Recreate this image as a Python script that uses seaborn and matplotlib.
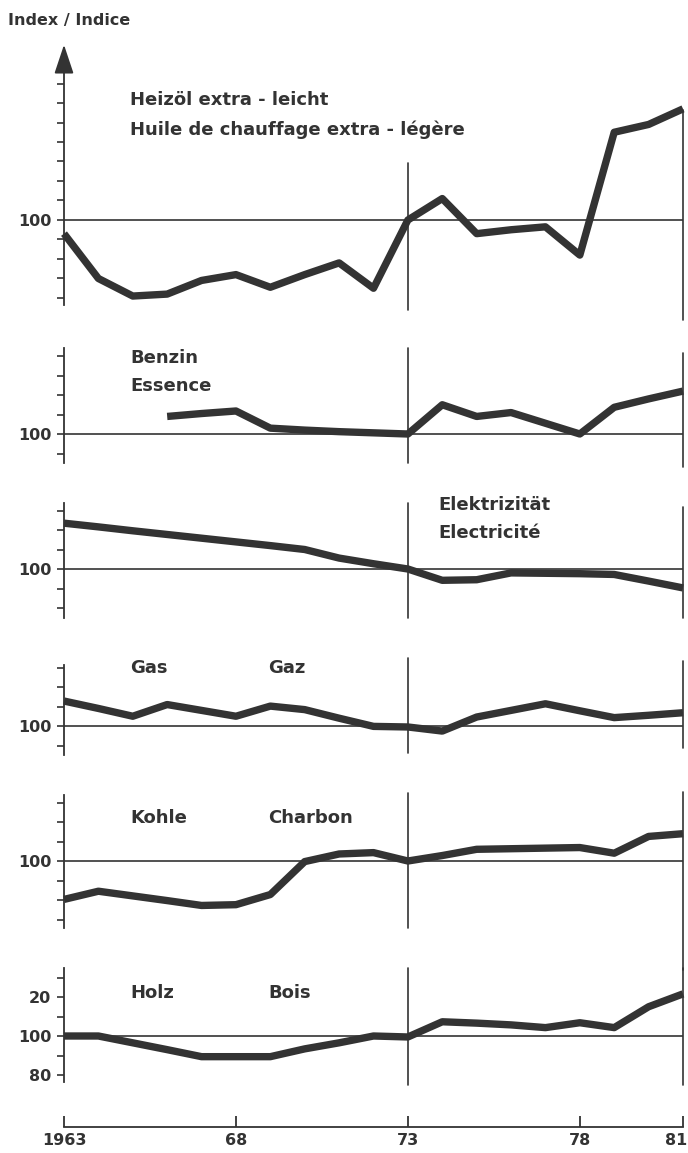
import matplotlib
matplotlib.use("Agg")
import numpy as np
import matplotlib.pyplot as plt
import matplotlib.transforms as mtransforms
import seaborn as sns

# -------------------- Data (index, 1973 = 100) --------------------
years = list(range(1963, 1982))
heizoel = [93, 70, 61, 62, 69, 72, 65.5, 72, 78, 65, 100, 111, 93, 95, 96.5, 82, 145, 149, 157]
benzin = [np.nan, np.nan, np.nan, 109, 110.5, 111.8, 103, 102, 101.2, 100.6, 100, 115, 109, 111, 105.5, 100, 113.7, 118, 122]
elektrizitaet = [123.5, 121.6, 119.6, 117.7, 115.8, 113.9, 112, 110, 105.6, 102.7, 100, 94.2, 94.5, 98, 97.8, 97.6, 97.2, 93.8, 90.3]
gas = [112.8, 109, 105, 111, 108, 105, 110.2, 108.4, 104, 99.8, 99.5, 97.4, 104.6, 108, 111.4, 107.8, 104.3, 105.5, 106.8]
kohle = [80.3, 84.5, 82.1, 79.7, 77.2, 77.6, 82.8, 99.7, 103.6, 104.3, 100, 102.8, 106, 106.3, 106.6, 106.9, 104, 112.6, 114]
holz = [100, 100, 96.5, 93, 89.4, 89.4, 89.4, 93.4, 96.5, 100, 99.5, 107.3, 106.6, 105.7, 104.3, 106.8, 104.3, 115, 121.6]

year_ticks = [1963, 1968, 1973, 1978, 1981]
year_labels = ["1963", "68", "73", "78", "81"]

# -------------------- Style --------------------
sns.set_theme(style="white")
plt.rcParams["font.family"] = ["DejaVu Sans"]
INK = "#333333"
W, H = 688, 1153
PX = 1.95  # pixels per index point

fig = plt.figure(figsize=(W / 100, H / 100), dpi=100)


def px_axes(top, bottom, left=64, right=683):
    return fig.add_axes([left / W, 1 - bottom / H, (right - left) / W, (bottom - top) / H])


# top, bottom, y of 100, vertical line extents (73 / 81), labels
panels = [
    dict(vals=heizoel, top=65, bottom=305, y100=220, v73=(163, 310), v81=(110, 320),
         texts=[(130, 100, "Heizöl extra - leicht"), (130, 130, "Huile de chauffage extra - légère")]),
    dict(vals=benzin, top=348, bottom=463, y100=434, v73=(348, 463), v81=(353, 467),
         texts=[(130, 358, "Benzin"), (130, 386, "Essence")]),
    dict(vals=elektrizitaet, top=503, bottom=618, y100=569, v73=(503, 618), v81=(507, 618),
         texts=[(438, 505, "Elektrizität"), (438, 533, "Electricité")]),
    dict(vals=gas, top=665, bottom=755, y100=726, v73=(658, 753), v81=(661, 748),
         texts=[(130, 668, "Gas"), (268, 668, "Gaz")]),
    dict(vals=kohle, top=795, bottom=928, y100=861, v73=(793, 928), v81=(792, 970),
         texts=[(130, 818, "Kohle"), (268, 818, "Charbon")]),
    dict(vals=holz, top=968, bottom=1082, y100=1036, v73=(968, 1085), v81=(968, 1085),
         texts=[(130, 993, "Holz"), (268, 993, "Bois")]),
]

for i, p in enumerate(panels):
    ax = px_axes(p["top"], p["bottom"])
    lo = 100 - (p["bottom"] - p["y100"]) / PX
    hi = 100 + (p["y100"] - p["top"]) / PX
    ax.set_xlim(1963, 1981)
    ax.set_ylim(lo, hi)
    ax.patch.set_alpha(0)

    ax.axhline(100, color=INK, lw=1.2, zorder=1)
    h = p["bottom"] - p["top"]
    for yr, (a, b) in ((1973, p["v73"]), (1981, p["v81"])):
        ax.axvline(yr, ymin=(p["bottom"] - b) / h, ymax=(p["bottom"] - a) / h,
                   color=INK, lw=1.2, clip_on=False, zorder=1)

    sns.lineplot(x=years, y=p["vals"], ax=ax, color=INK, linewidth=5.3,
                 solid_joinstyle="round", solid_capstyle="butt", clip_on=False, zorder=3)

    for spine in ("top", "right", "bottom"):
        ax.spines[spine].set_visible(False)
    ax.spines["left"].set_color(INK)
    ax.spines["left"].set_linewidth(1.3)
    ax.set_xticks([])

    ticks = [t for t in range(0, 300, 10) if lo <= t <= hi]
    if i == 5:
        labels = {120: "20", 100: "100", 80: "80"}
    else:
        labels = {100: "100"}
    ax.set_yticks(ticks)
    ax.set_yticklabels([labels.get(t, "") for t in ticks], fontsize=11.5, fontweight="bold", color=INK)
    ax.tick_params(axis="y", direction="out", length=5, width=1.2, color=INK, pad=4, left=True)
    ax.set_xlabel("")
    ax.set_ylabel("")

    for x, y, s in p["texts"]:
        fig.text(x / W, 1 - y / H, s, fontsize=13, fontweight="bold", color=INK,
                 ha="left", va="center")

    if i == 0:
        ax.annotate("", xy=(0, 1 + 23 / h), xytext=(0, 0.99), xycoords="axes fraction",
                    arrowprops=dict(arrowstyle="-|>,head_length=0.9,head_width=0.3",
                                    color=INK, lw=1.3, mutation_scale=20),
                    annotation_clip=False)

fig.text(8 / W, 1 - 20 / H, "Index / Indice", fontsize=11.5, fontweight="bold", color=INK,
         ha="left", va="center")

# -------------------- Year axis --------------------
axx = px_axes(1100, 1127)
axx.set_xlim(1963, 1981)
axx.set_ylim(0, 1)
axx.patch.set_alpha(0)
for spine in ("top", "right", "left"):
    axx.spines[spine].set_visible(False)
axx.spines["bottom"].set_color(INK)
axx.spines["bottom"].set_linewidth(1.3)
axx.set_yticks([])
axx.set_xticks(year_ticks)
axx.set_xticklabels(year_labels, fontsize=11.5, fontweight="bold", color=INK)
axx.tick_params(axis="x", direction="in", length=8, width=1.3, color=INK, pad=4, bottom=True)
last = axx.get_xticklabels()[-1]
last.set_transform(last.get_transform() + mtransforms.ScaledTranslation(-7 / 100, 0, fig.dpi_scale_trans))

fig.savefig("out.png", dpi=100, facecolor="white")
